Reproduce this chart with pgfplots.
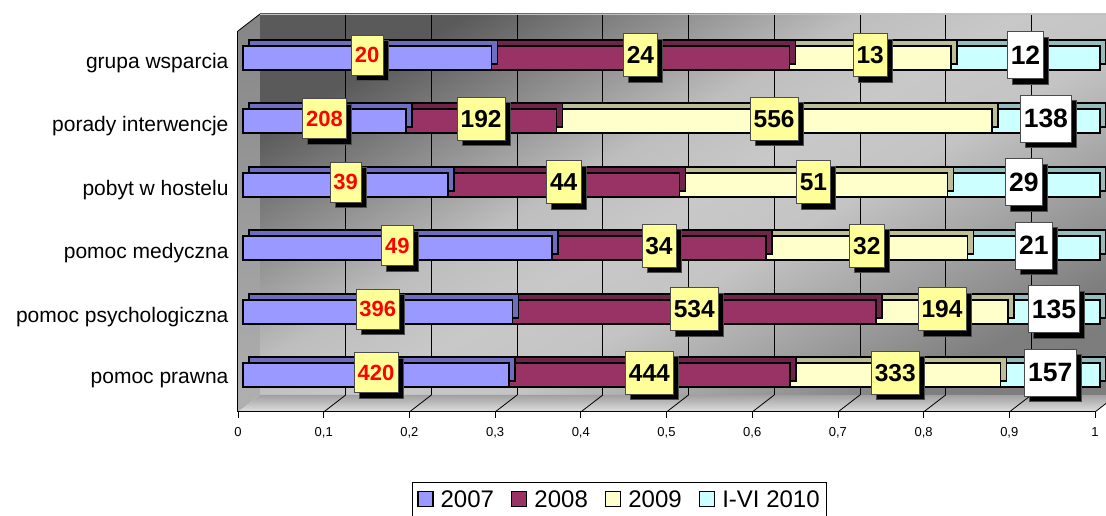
\documentclass[border=0pt]{standalone}
\usepackage{pgfplots}
\pgfplotsset{compat=1.18}
\usepackage{pgfplotstable}
\usepackage{fontspec}
\setmainfont{Liberation Sans}
\usetikzlibrary{shadows}

\definecolor{cA}{HTML}{9999FF}
\definecolor{cAd}{HTML}{6E6EC0}
\definecolor{cB}{HTML}{993366}
\definecolor{cBd}{HTML}{70244B}
\definecolor{cC}{HTML}{FFFFCC}
\definecolor{cCd}{HTML}{BDBD98}
\definecolor{cD}{HTML}{CCFFFF}
\definecolor{cDd}{HTML}{96BDBD}
\definecolor{lab}{HTML}{FFFF99}
\definecolor{w0}{HTML}{7A7A7A}
\definecolor{w1}{HTML}{7E7E7E}
\definecolor{w2}{HTML}{C4C4C4}
\definecolor{w3}{HTML}{C8C8C8}
\definecolor{w4}{HTML}{BEBEBE}
\definecolor{w5}{HTML}{5A5A5A}
\definecolor{sideD}{HTML}{858585}
\definecolor{sideL}{HTML}{B0B0B0}
\definecolor{floorD}{HTML}{A0A0A0}
\definecolor{floorL}{HTML}{E0E0E0}

\pgfdeclareverticalshading{wallsh}{100bp}{color(0bp)=(w0); color(25bp)=(w1); color(43bp)=(w2); color(50bp)=(w3); color(57bp)=(w4); color(75bp)=(w5); color(100bp)=(w5)}

% y: 0 = pomoc prawna ... 5 = grupa wsparcia; f = share of row total, c = count
\pgfplotstableread{
y f1 c1 f2 c2 f3 c3 f4 c4
0 0.3102 420 0.3279 444 0.2459 333 0.1160 157
1 0.3145 396 0.4241 534 0.1541 194 0.1072 135
2 0.3603 49 0.2500 34 0.2353 32 0.1544 21
3 0.2393 39 0.2699 44 0.3129 51 0.1779 29
4 0.1901 208 0.1755 192 0.5082 556 0.1261 138
5 0.2899 20 0.3478 24 0.1884 13 0.1739 12
}\data

\pgfplotsset{
  bar3d/.style 2 args={fill=#1, draw=black, line width=1.6pt,
    preaction={fill=#2, draw=black, line width=1.6pt,
      transform canvas={xshift=6pt,yshift=6pt}},
    xshift=5pt, yshift=5pt},
  lbl/.style n args={4}{nodes near coords, point meta=explicit symbolic,
    every node near coord/.append style={anchor=center,
      yshift=2.5pt, fill=#1, text=#2,
      font=\fontsize{#3}{#3}\selectfont\bfseries,
      draw=gray!60!black, line width=0.5pt, inner xsep=3.5pt, inner ysep=0pt,
      minimum height=#4pt,
      drop shadow={shadow xshift=5pt, shadow yshift=-5.5pt, fill=black, opacity=1}}},
}

\begin{document}
\begin{tikzpicture}
\path[use as bounding box] (0,0) rectangle (1106pt,516pt);
% left wall
\shade[top color=sideD, bottom color=sideL] (238pt,104pt) -- (238pt,485pt) -- (260pt,502pt) -- (260pt,121pt) -- cycle;
% back wall
\shade[shading=wallsh, shading angle=30] (260pt,121pt) rectangle (1117pt,502pt);
% floor
\shade[top color=floorD, bottom color=floorL] (238pt,104pt) -- (260pt,121pt) -- (1117pt,121pt) -- (1095pt,104pt) -- cycle;
\foreach \k in {1,...,10} {
  \draw[black, line width=0.8pt] ({260pt+85.7pt*\k},121pt) -- ({260pt+85.7pt*\k},502pt);
  \draw[black, line width=0.8pt] ({238pt+85.7pt*\k},104pt) -- ({260pt+85.7pt*\k},121pt);
}
\draw[black, line width=0.8pt] (238pt,485pt) -- (260pt,502pt);
\draw[gray!50, line width=0.8pt] (260pt,502pt) -- (1117pt,502pt);

\begin{axis}[
  at={(238pt,104pt)}, anchor=south west,
  scale only axis, width=857pt, height=381pt,
  xmin=0, xmax=1, ymin=-0.5, ymax=5.5,
  xbar stacked, bar width=24pt,
  clip=false,
  axis x line*=bottom, axis y line*=left,
  axis line style={black, line width=1pt},
  xtick={0,0.1,0.2,0.3,0.4,0.5,0.6,0.7,0.8,0.9,1},
  /pgf/number format/.cd, use comma, assume math mode=true, /pgfplots/.cd,
  xticklabel style={font=\fontsize{13}{13}\selectfont, yshift=-6pt},
  ytick={0,1,2,3,4,5},
  yticklabels={pomoc prawna, pomoc psychologiczna, pomoc medyczna, pobyt w hostelu, porady interwencje, grupa wsparcia},
  yticklabel style={font=\fontsize{21}{21}\selectfont},
  ytick style={draw=none},
  minor ytick={-0.5,0.5,1.5,2.5,3.5,4.5,5.5},
  minor tick length=5pt,
  minor tick style={black, line width=0.8pt},
  xtick style={black, line width=0.8pt},
  tick align=outside, major tick length=6pt,
  legend image code/.code={\draw[#1, draw=black, line width=1.5pt] (0pt,-7pt) rectangle (15pt,8pt);},
  legend style={at={(0.445,-0.1837)}, anchor=north, legend columns=4,
    draw=black, line width=0.6pt, font=\fontsize{24}{24}\selectfont,
    inner ysep=6pt, inner xsep=5pt,
    /tikz/every odd column/.append style={column sep=5pt},
    /tikz/every even column/.append style={column sep=15pt}},
]
\addlegendimage{fill=cA}\addlegendentry{2007}
\addlegendimage{fill=cB}\addlegendentry{2008}
\addlegendimage{fill=cC}\addlegendentry{2009}
\addlegendimage{fill=cD}\addlegendentry{I-VI 2010}

\addplot[bar3d={cA}{cAd}, lbl={lab}{red}{22}{40}] table[x=f1, y=y, meta=c1] {\data};
\addplot[bar3d={cB}{cBd}, lbl={lab}{black}{24.5}{43}] table[x=f2, y=y, meta=c2] {\data};
\addplot[bar3d={cC}{cCd}, lbl={lab}{black}{24.5}{43}] table[x=f3, y=y, meta=c3] {\data};
\addplot[bar3d={cD}{cDd}, lbl={white}{black}{26.5}{47}] table[x=f4, y=y, meta=c4] {\data};
\end{axis}
\end{tikzpicture}
\end{document}
